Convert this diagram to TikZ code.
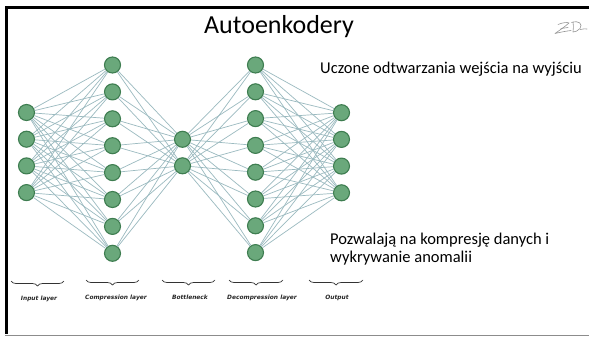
\documentclass[tikz,border=0pt]{standalone}
\usepackage{fontspec}
\setmainfont{Carlito}
\newfontfamily\labelfont{DejaVu Sans}
\usetikzlibrary{decorations.pathreplacing}
\definecolor{neuronfill}{RGB}{106,168,123}
\definecolor{neuronedge}{RGB}{62,125,80}
\definecolor{synapse}{RGB}{155,186,192}
\definecolor{sig}{RGB}{150,150,150}
\tikzset{
  neuron/.style={circle, minimum size=16pt, inner sep=0pt, fill=neuronfill, draw=neuronedge, line width=1.1pt},
  link/.style={draw=synapse, line width=0.7pt},
  layerbrace/.style={decorate, decoration={brace, amplitude=5pt, mirror}, line width=0.7pt, draw=black!80},
  layername/.style={font=\labelfont\bfseries\itshape\fontsize{5.9}{6.5}\selectfont, text=black!85},
  bodytext/.style={font=\fontsize{16.5}{19}\selectfont, anchor=base west, inner sep=0pt}
}
\begin{document}
\begin{tikzpicture}[x=1pt, y=-1pt]
  \useasboundingbox (0,0) rectangle (589,337);
  \fill[white] (0,0) rectangle (589,337);

  % slide frame
  \draw[line width=3pt] (6.5,334) -- (6.5,7.5) -- (589,7.5);
  \draw[black!45, line width=1.2pt] (5,335.8) -- (589,335.8);

  % title
  \node[font=\fontsize{26}{30}\selectfont, anchor=base, inner sep=0pt] (title) at (279,34) {Autoenkodery};

  % signature
  \draw[sig, line width=0.6pt, line cap=round, line join=round]
    (558,24.5) .. controls (563,22.5) and (567,22) .. (569,23)
    .. controls (565,26.5) and (560,30) .. (555,33.5)
    .. controls (561,32) and (567,31) .. (571,30.5);
  \draw[sig, line width=0.6pt, line cap=round]
    (561,28.5) -- (568,27.5);
  \draw[sig, line width=0.6pt, line cap=round, line join=round]
    (573,22) .. controls (573.5,26) and (573.5,29) .. (573,32)
    (571.5,22.5) .. controls (579,20) and (583,24) .. (580,28.5)
    .. controls (578,31) and (575,32) .. (573,32);
  \draw[sig, line width=0.6pt, line cap=round]
    (580.5,29.5) .. controls (583,29) and (585,28.5) .. (587,29);

  % neurons
  \foreach \k/\y in {1/112.5,2/139.2,3/165.9,4/192.6}
    \node[neuron] (i\k) at (26.5,\y) {};
  \foreach \k in {1,...,8}
    \node[neuron] (c\k) at (112.5,{65+26.9*(\k-1)}) {};
  \node[neuron] (b1) at (182.5,139.3) {};
  \node[neuron] (b2) at (182.5,165.8) {};
  \foreach \k in {1,...,8}
    \node[neuron] (d\k) at (255.5,{65+26.8*(\k-1)}) {};
  \foreach \k/\y in {1/112.7,2/139.4,3/166.1,4/192.8}
    \node[neuron] (o\k) at (341.5,\y) {};

  % full connections between neighbouring layers
  \foreach \a in {1,...,4}
    \foreach \b in {1,...,8}
      \draw[link] (i\a) -- (c\b);
  \foreach \a in {1,...,8}
    \foreach \b in {1,2}
      \draw[link] (c\a) -- (b\b);
  \foreach \a in {1,2}
    \foreach \b in {1,...,8}
      \draw[link] (b\a) -- (d\b);
  \foreach \a in {1,...,8}
    \foreach \b in {1,...,4}
      \draw[link] (d\a) -- (o\b);

  % layer braces and names
  \coordinate (bi1) at (11,281);  \coordinate (bi2) at (64,281);
  \coordinate (bc1) at (86,280);  \coordinate (bc2) at (139,280);
  \coordinate (bb1) at (162,280); \coordinate (bb2) at (215,280);
  \coordinate (bd1) at (229,280); \coordinate (bd2) at (283,280);
  \coordinate (bo1) at (309,280); \coordinate (bo2) at (363,280);
  \draw[layerbrace] (bi1) -- (bi2);
  \draw[layerbrace] (bc1) -- (bc2);
  \draw[layerbrace] (bb1) -- (bb2);
  \draw[layerbrace] (bd1) -- (bd2);
  \draw[layerbrace] (bo1) -- (bo2);
  \node[layername] (ninput) at (39,298.5) {Input layer};
  \node[layername] (ncomp) at (116,297.5) {Compression layer};
  \node[layername] (nbottle) at (190,297.5) {Bottleneck};
  \node[layername] (ndecomp) at (262,297.5) {Decompression layer};
  \node[layername] (noutput) at (337,297.5) {Output};

  % description
  \node[bodytext] (learn) at (320,74) {Uczone odtwarzania wejścia na wyjściu};
  \node[bodytext] (use1) at (330,244) {Pozwalają na kompresję danych i};
  \node[bodytext] (use2) at (330,262.5) {wykrywanie anomalii};
\end{tikzpicture}
\end{document}
